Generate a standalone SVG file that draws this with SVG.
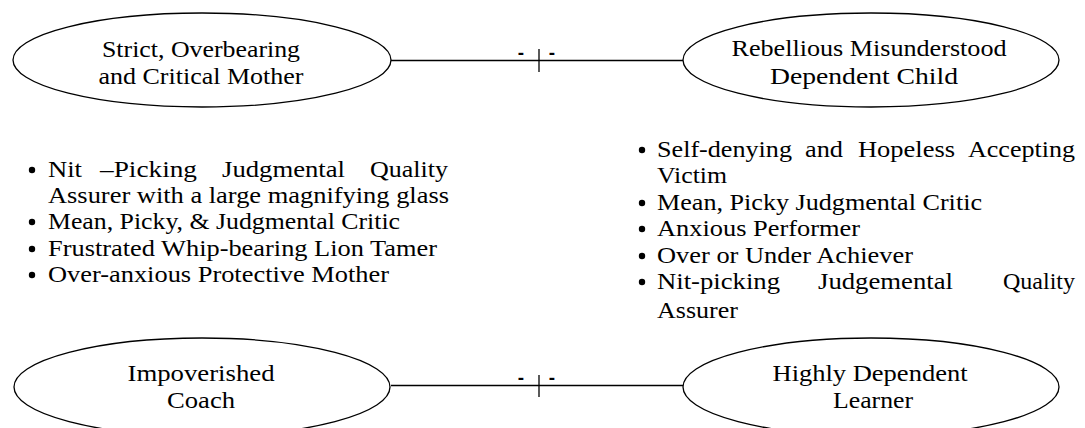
<svg xmlns="http://www.w3.org/2000/svg" width="1085" height="428" viewBox="0 0 1085 428">
<style>
  .node ellipse { fill: #fff; stroke: #000; stroke-width: 1.3; }
  text { font-family: "Liberation Serif", "Times New Roman", serif; font-size: 23px; fill: #000; }
  .node text { font-size: 24px; }
  .c { text-anchor: middle; }
  .e { text-anchor: end; }
  .conn line { stroke: #000; stroke-width: 1.3; }
  .dash { font-family: "Liberation Sans", Arial, sans-serif; font-size: 19px; font-weight: bold; text-anchor: middle; }
  .bul { fill: #000; }
</style>
<defs>
  <circle id="bullet" r="3.2"/>
</defs>
<rect width="1085" height="428" fill="#fff"/>
<g id="connectors" class="conn">
  <line x1="391" y1="60.5" x2="683" y2="60.5"/>
  <line x1="539" y1="49" x2="539" y2="72"/>
  <text class="dash" x="521" y="59">-</text>
  <text class="dash" x="552" y="59">-</text>
  <line x1="391" y1="385.5" x2="683" y2="385.5"/>
  <line x1="539" y1="375" x2="539" y2="397"/>
  <text class="dash" x="521" y="384">-</text>
  <text class="dash" x="552" y="384">-</text>
</g>
<g id="node-mother" class="node">
  <ellipse cx="202" cy="60" rx="189" ry="47"/>
  <text class="c" x="201" y="57" textLength="198" lengthAdjust="spacingAndGlyphs">Strict, Overbearing</text>
  <text class="c" x="201" y="84" textLength="205" lengthAdjust="spacingAndGlyphs">and Critical Mother</text>
</g>
<g id="node-child" class="node">
  <ellipse cx="871" cy="60" rx="188" ry="47"/>
  <text class="c" x="869" y="56" textLength="275" lengthAdjust="spacingAndGlyphs">Rebellious Misunderstood</text>
  <text class="c" x="864" y="84" textLength="188" lengthAdjust="spacingAndGlyphs">Dependent Child</text>
</g>
<g id="node-coach" class="node">
  <ellipse cx="202" cy="387" rx="188" ry="49"/>
  <text class="c" x="201" y="381" textLength="147" lengthAdjust="spacingAndGlyphs">Impoverished</text>
  <text class="c" x="201" y="408" textLength="68" lengthAdjust="spacingAndGlyphs">Coach</text>
</g>
<g id="node-learner" class="node">
  <ellipse cx="871" cy="387" rx="188" ry="49"/>
  <text class="c" x="870" y="381" textLength="195" lengthAdjust="spacingAndGlyphs">Highly Dependent</text>
  <text class="c" x="873" y="408" textLength="80" lengthAdjust="spacingAndGlyphs">Learner</text>
</g>
<g id="list-left">
  <use href="#bullet" class="bul" x="32" y="170"/>
  <text x="48" y="177" textLength="34" lengthAdjust="spacingAndGlyphs">Nit</text>
  <text x="100" y="177" textLength="97" lengthAdjust="spacingAndGlyphs">–Picking</text>
  <text x="222" y="177" textLength="123" lengthAdjust="spacingAndGlyphs">Judgmental</text>
  <text x="370" y="177" textLength="78" lengthAdjust="spacingAndGlyphs">Quality</text>
  <text x="48" y="203" textLength="401" lengthAdjust="spacingAndGlyphs">Assurer with a large magnifying glass</text>
  <use href="#bullet" class="bul" x="32" y="222"/>
  <text x="48" y="229" textLength="352" lengthAdjust="spacingAndGlyphs">Mean, Picky, &amp; Judgmental Critic</text>
  <use href="#bullet" class="bul" x="32" y="249"/>
  <text x="48" y="256" textLength="389" lengthAdjust="spacingAndGlyphs">Frustrated Whip-bearing Lion Tamer</text>
  <use href="#bullet" class="bul" x="32" y="275"/>
  <text x="48" y="282" textLength="341" lengthAdjust="spacingAndGlyphs">Over-anxious Protective Mother</text>
</g>
<g id="list-right">
  <use href="#bullet" class="bul" x="642" y="150"/>
  <text x="657" y="157" textLength="135" lengthAdjust="spacingAndGlyphs">Self-denying</text>
  <text x="805" y="157" textLength="38" lengthAdjust="spacingAndGlyphs">and</text>
  <text x="858" y="157" textLength="97" lengthAdjust="spacingAndGlyphs">Hopeless</text>
  <text x="968" y="157" textLength="107" lengthAdjust="spacingAndGlyphs">Accepting</text>
  <text x="657" y="183" textLength="70" lengthAdjust="spacingAndGlyphs">Victim</text>
  <use href="#bullet" class="bul" x="642" y="203"/>
  <text x="657" y="210" textLength="325" lengthAdjust="spacingAndGlyphs">Mean, Picky Judgmental Critic</text>
  <use href="#bullet" class="bul" x="642" y="229"/>
  <text x="657" y="236" textLength="203" lengthAdjust="spacingAndGlyphs">Anxious Performer</text>
  <use href="#bullet" class="bul" x="642" y="256"/>
  <text x="657" y="263" textLength="256" lengthAdjust="spacingAndGlyphs">Over or Under Achiever</text>
  <use href="#bullet" class="bul" x="642" y="282"/>
  <text x="657" y="289" textLength="123" lengthAdjust="spacingAndGlyphs">Nit-picking</text>
  <text x="818" y="289" textLength="135" lengthAdjust="spacingAndGlyphs">Judgemental</text>
  <text class="e" x="1075" y="289" textLength="72" lengthAdjust="spacingAndGlyphs">Quality</text>
  <text x="657" y="318" textLength="81" lengthAdjust="spacingAndGlyphs">Assurer</text>
</g>
</svg>
